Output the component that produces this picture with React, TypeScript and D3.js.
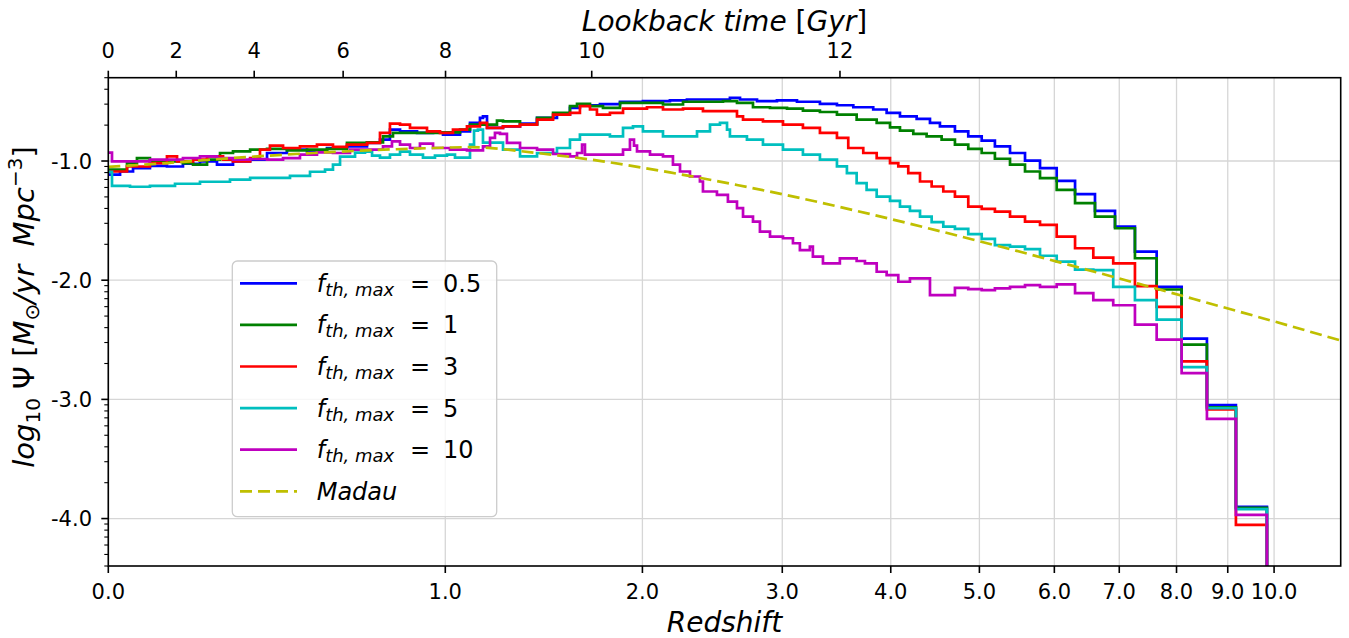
import React from 'react';
import * as d3 from 'd3';

// ---------- data (x = log10(1+z), y = log10 SFRD) ----------
const redshiftTicks = [0, 1, 2, 3, 4, 5, 6, 7, 8, 9, 10];
const lookbackTicks = [0, 2, 4, 6, 8, 10, 12];
const lookbackTickRedshift = [0, 0.150, 0.350, 0.621, 1.001, 1.703, 3.504];
const logPsiTicks = [-1, -2, -3, -4];
const xDomainLog1pz: [number, number] = [0, 1.1009];
const yDomainLogPsi: [number, number] = [Math.log10(4e-5), Math.log10(0.5)];

const sfrF05: [number, number][] = [
  [0, -1.115], [0.0105, -1.088], [0.0221, -1.059], [0.0372, -1.040], [0.0524, -1.046], [0.0667, -1.023],
  [0.0819, -1.003], [0.0971, -1.031], [0.1114, -1.003], [0.1267, -0.989], [0.1418, -0.933], [0.1596, -0.905],
  [0.1775, -0.919], [0.1954, -0.891], [0.2132, -0.877], [0.2311, -0.848], [0.2427, -0.821], [0.2516, -0.737],
  [0.2606, -0.751], [0.2758, -0.764], [0.2901, -0.759], [0.2990, -0.779], [0.3142, -0.751], [0.3231, -0.680],
  [0.3320, -0.638], [0.3347, -0.625], [0.3383, -0.722], [0.3526, -0.709], [0.3678, -0.686], [0.3830, -0.638],
  [0.4008, -0.610], [0.4124, -0.554], [0.4213, -0.532], [0.4392, -0.522], [0.4571, -0.503], [0.4776, -0.498],
  [0.5017, -0.492], [0.5169, -0.484], [0.5375, -0.484], [0.5553, -0.470], [0.5643, -0.484], [0.5795, -0.498],
  [0.5973, -0.492], [0.6152, -0.503], [0.6357, -0.520], [0.6509, -0.532], [0.6655, -0.549], [0.6833, -0.568],
  [0.6953, -0.596], [0.7072, -0.625], [0.7221, -0.646], [0.7340, -0.680], [0.7429, -0.709], [0.7563, -0.751],
  [0.7682, -0.793], [0.7802, -0.829], [0.7920, -0.877], [0.8055, -0.933], [0.8189, -0.997], [0.8323, -1.059],
  [0.8472, -1.166], [0.8636, -1.278], [0.8814, -1.418], [0.8993, -1.551], [0.9171, -1.761], [0.9365, -2.056],
  [0.9588, -2.490], [0.9814, -3.049], [1.0073, -3.902], [1.0350, -6]
];

const sfrF1: [number, number][] = [
  [0, -1.073], [0.0167, -1.017], [0.0256, -0.975], [0.0372, -1.003], [0.0524, -1.003], [0.0667, -1.017],
  [0.0757, -1.031], [0.0882, -0.989], [0.0998, -0.933], [0.1114, -0.919], [0.1267, -0.905], [0.1418, -0.899],
  [0.1596, -0.911], [0.1775, -0.905], [0.1954, -0.899], [0.2132, -0.848], [0.2311, -0.843], [0.2454, -0.793],
  [0.2543, -0.764], [0.2695, -0.764], [0.2847, -0.764], [0.2990, -0.759], [0.3142, -0.737], [0.3231, -0.694],
  [0.3383, -0.694], [0.3472, -0.661], [0.3526, -0.667], [0.3678, -0.694], [0.3830, -0.638], [0.3973, -0.596],
  [0.4124, -0.540], [0.4187, -0.520], [0.4303, -0.540], [0.4419, -0.554], [0.4571, -0.512], [0.4776, -0.512],
  [0.4955, -0.526], [0.5134, -0.503], [0.5312, -0.503], [0.5491, -0.498], [0.5616, -0.512], [0.5759, -0.549],
  [0.5911, -0.554], [0.6063, -0.560], [0.6205, -0.577], [0.6357, -0.589], [0.6509, -0.610], [0.6685, -0.652],
  [0.6864, -0.680], [0.6983, -0.717], [0.7072, -0.745], [0.7191, -0.773], [0.7310, -0.793], [0.7444, -0.821],
  [0.7563, -0.863], [0.7682, -0.899], [0.7802, -0.933], [0.7920, -0.981], [0.8055, -1.031], [0.8189, -1.088],
  [0.8323, -1.143], [0.8472, -1.242], [0.8636, -1.354], [0.8814, -1.466], [0.8993, -1.564], [0.9171, -1.816],
  [0.9365, -2.078], [0.9588, -2.540], [0.9814, -3.066], [1.0073, -3.910], [1.0350, -6]
];

const sfrF3: [number, number][] = [
  [0, -1.088], [0.0167, -1.046], [0.0372, -1.017], [0.0524, -0.961], [0.0614, -1.003], [0.0757, -0.989],
  [0.0882, -0.961], [0.1025, -0.989], [0.1114, -1.003], [0.1267, -0.975], [0.1355, -0.905], [0.1444, -0.871],
  [0.1561, -0.891], [0.1712, -0.877], [0.1864, -0.863], [0.2007, -0.882], [0.2132, -0.863], [0.2311, -0.848],
  [0.2427, -0.764], [0.2516, -0.686], [0.2606, -0.694], [0.2695, -0.722], [0.2847, -0.751], [0.2963, -0.764],
  [0.3079, -0.737], [0.3204, -0.709], [0.3320, -0.680], [0.3383, -0.722], [0.3526, -0.709], [0.3678, -0.694],
  [0.3830, -0.652], [0.3973, -0.610], [0.4124, -0.596], [0.4213, -0.540], [0.4303, -0.568], [0.4365, -0.610],
  [0.4481, -0.596], [0.4598, -0.560], [0.4812, -0.549], [0.4955, -0.568], [0.5134, -0.560], [0.5312, -0.582],
  [0.5616, -0.625], [0.5670, -0.652], [0.5848, -0.667], [0.6027, -0.694], [0.6205, -0.722], [0.6357, -0.764],
  [0.6509, -0.806], [0.6610, -0.891], [0.6744, -0.933], [0.6864, -0.975], [0.6983, -1.017], [0.7057, -1.045],
  [0.7146, -1.101], [0.7251, -1.172], [0.7355, -1.214], [0.7459, -1.256], [0.7563, -1.298], [0.7682, -1.382],
  [0.7802, -1.402], [0.7920, -1.424], [0.8055, -1.466], [0.8189, -1.508], [0.8323, -1.536], [0.8472, -1.635],
  [0.8636, -1.732], [0.8799, -1.811], [0.8977, -1.859], [0.9171, -2.050], [0.9365, -2.224], [0.9588, -2.681],
  [0.9814, -3.085], [1.0073, -4.053], [1.0350, -6]
];

const sfrF5: [number, number][] = [
  [0, -1.090], [0.0033, -1.208], [0.0194, -1.216], [0.0372, -1.208], [0.0596, -1.191], [0.0819, -1.174],
  [0.1087, -1.157], [0.1267, -1.141], [0.1444, -1.141], [0.1623, -1.124], [0.1802, -1.090], [0.1936, -1.073],
  [0.2007, -1.031], [0.2070, -0.963], [0.2204, -0.930], [0.2293, -0.922], [0.2356, -0.955], [0.2427, -0.972],
  [0.2516, -0.947], [0.2606, -0.922], [0.2695, -0.947], [0.2811, -0.972], [0.2918, -0.955], [0.3025, -0.947],
  [0.3097, -0.972], [0.3186, -0.972], [0.3231, -0.863], [0.3267, -0.745], [0.3302, -0.737], [0.3347, -0.846],
  [0.3526, -0.905], [0.3678, -0.961], [0.3830, -0.933], [0.4008, -0.891], [0.4124, -0.821], [0.4213, -0.779],
  [0.4365, -0.779], [0.4481, -0.793], [0.4598, -0.722], [0.4687, -0.709], [0.4776, -0.751], [0.4955, -0.793],
  [0.5134, -0.793], [0.5259, -0.751], [0.5375, -0.694], [0.5464, -0.680], [0.5527, -0.737], [0.5553, -0.793],
  [0.5705, -0.821], [0.5848, -0.863], [0.6027, -0.905], [0.6205, -0.947], [0.6357, -0.989], [0.6509, -1.045],
  [0.6598, -1.101], [0.6685, -1.185], [0.6774, -1.242], [0.6864, -1.298], [0.6983, -1.334], [0.7072, -1.382],
  [0.7161, -1.418], [0.7251, -1.466], [0.7355, -1.513], [0.7459, -1.550], [0.7563, -1.570], [0.7682, -1.614],
  [0.7802, -1.654], [0.7920, -1.705], [0.8055, -1.719], [0.8189, -1.739], [0.8323, -1.795], [0.8472, -1.845],
  [0.8636, -1.911], [0.8799, -1.915], [0.8977, -2.056], [0.9171, -2.168], [0.9365, -2.330], [0.9588, -2.729],
  [0.9814, -3.074], [1.0073, -3.921], [1.0350, -6]
];

const sfrF10: [number, number][] = [
  [0, -0.930], [0.0033, -1.003], [0.0221, -1.003], [0.0372, -0.989], [0.0667, -0.975], [0.0819, -0.961],
  [0.0971, -0.975], [0.1114, -0.989], [0.1267, -0.983], [0.1418, -0.989], [0.1561, -0.975], [0.1712, -0.947],
  [0.1864, -0.928], [0.2007, -0.933], [0.2159, -0.905], [0.2311, -0.905], [0.2454, -0.877], [0.2534, -0.835],
  [0.2606, -0.863], [0.2695, -0.891], [0.2784, -0.854], [0.2901, -0.891], [0.3052, -0.905], [0.3204, -0.911],
  [0.3347, -0.877], [0.3410, -0.806], [0.3454, -0.764], [0.3499, -0.773], [0.3561, -0.848], [0.3678, -0.891],
  [0.3830, -0.905], [0.3973, -0.941], [0.4124, -0.961], [0.4187, -0.933], [0.4232, -0.863], [0.4258, -0.947],
  [0.4544, -0.947], [0.4598, -0.905], [0.4660, -0.821], [0.4696, -0.871], [0.4723, -0.919], [0.4839, -0.947],
  [0.4955, -0.961], [0.5044, -1.031], [0.5107, -1.088], [0.5196, -1.130], [0.5285, -1.172], [0.5312, -1.256],
  [0.5437, -1.284], [0.5535, -1.340], [0.5616, -1.396], [0.5670, -1.466], [0.5759, -1.508], [0.5821, -1.592],
  [0.5911, -1.635], [0.6027, -1.648], [0.6116, -1.690], [0.6178, -1.747], [0.6267, -1.719], [0.6294, -1.803],
  [0.6384, -1.859], [0.6535, -1.817], [0.6685, -1.839], [0.6759, -1.859], [0.6864, -1.929], [0.6953, -1.957],
  [0.7057, -2.013], [0.7161, -1.985], [0.7340, -2.125], [0.7563, -2.064], [0.7682, -2.075], [0.7802, -2.083],
  [0.7920, -2.069], [0.8055, -2.056], [0.8189, -2.041], [0.8323, -2.056], [0.8472, -2.035], [0.8636, -2.109],
  [0.8799, -2.168], [0.8977, -2.210], [0.9171, -2.372], [0.9365, -2.498], [0.9588, -2.779], [0.9814, -3.163],
  [1.0073, -3.969], [1.0350, -6]
];

const madau: [number, number][] = [
  [0, -1.05], [0.0524, -1.017], [0.1114, -0.975], [0.1712, -0.939], [0.2311, -0.911], [0.2901, -0.891],
  [0.3231, -0.884], [0.3830, -0.933], [0.4419, -1.003], [0.5017, -1.096], [0.5616, -1.201], [0.6205, -1.316],
  [0.6800, -1.444], [0.7400, -1.582], [0.8000, -1.726], [0.8600, -1.876], [0.9200, -2.029], [0.9800, -2.185],
  [1.0400, -2.342], [1.1009, -2.506]
];

const fthLabels = ['0.5', '1', '3', '5', '10'];
const seriesColors = ['#0000ff', '#008000', '#ff0000', '#00bfbf', '#bf00bf'];
const seriesData = [sfrF05, sfrF1, sfrF3, sfrF5, sfrF10];
const madauColor = '#bfbf00';

// ---------- layout ----------
const W = 1349;
const H = 638;
const PL = 108.3, PR = 1340.7, PT = 77.7, PB = 566;
const FONT = "'DejaVu Sans', sans-serif";

export default function App() {
  const x = d3.scaleLinear().domain(xDomainLog1pz).range([PL, PR]);
  const y = d3.scaleLinear().domain(yDomainLogPsi).range([PB, PT]);
  const xz = (z: number) => x(Math.log10(1 + z));

  const stepLine = d3.line<[number, number]>().x(d => x(d[0])).y(d => y(d[1])).curve(d3.curveStepAfter);
  const smoothLine = d3.line<[number, number]>().x(d => x(d[0])).y(d => y(d[1])).curve(d3.curveMonotoneX);

  const minorY: number[] = [];
  for (let n = -5; n <= -1; n++) {
    for (let k = 2; k <= 9; k++) {
      const v = n + Math.log10(k);
      if (v >= yDomainLogPsi[0] - 1e-6 && v <= yDomainLogPsi[1] + 1e-6) minorY.push(v);
    }
  }

  const legendX = 232.3, legendY = 261, legendW = 264.4, legendH = 255.7;
  const rowY0 = 283.3, rowDy = 41.6;

  return (
    <svg width={W} height={H} style={{ position: 'absolute', left: 0, top: 0, display: 'block' }} fontFamily={FONT}>
      <rect x={0} y={0} width={W} height={H} fill="#fff" />
      <defs>
        <clipPath id="plotClip">
          <rect x={PL} y={PT} width={PR - PL} height={PB - PT} />
        </clipPath>
      </defs>

      {/* grid */}
      <g stroke="#d6d6d6" strokeWidth={1.3}>
        {redshiftTicks.map(z => (
          <line key={'gx' + z} x1={xz(z)} x2={xz(z)} y1={PT} y2={PB} />
        ))}
        {logPsiTicks.map(v => (
          <line key={'gy' + v} x1={PL} x2={PR} y1={y(v)} y2={y(v)} />
        ))}
      </g>

      {/* series */}
      <g clipPath="url(#plotClip)" fill="none">
        {seriesData.map((data, i) => (
          <path key={'s' + i} d={stepLine(data) || ''} stroke={seriesColors[i]} strokeWidth={2.7}
            strokeLinejoin="miter" strokeLinecap="square" />
        ))}
        <path d={smoothLine(madau) || ''} stroke={madauColor} strokeWidth={2.7} strokeDasharray="12 6" />
      </g>

      {/* frame */}
      <rect x={PL} y={PT} width={PR - PL} height={PB - PT} fill="none" stroke="#000" strokeWidth={1.6} />

      {/* bottom axis */}
      <g>
        {redshiftTicks.map(z => (
          <g key={'bx' + z}>
            <line x1={xz(z)} x2={xz(z)} y1={PB} y2={PB + 7} stroke="#000" strokeWidth={1.6} />
            <text x={xz(z)} y={599} textAnchor="middle" fontSize={21}>{z.toFixed(1)}</text>
          </g>
        ))}
        <text x={(PL + PR) / 2} y={632} textAnchor="middle" fontSize={28} fontStyle="italic">Redshift</text>
      </g>

      {/* top axis */}
      <g>
        {lookbackTicks.map((t, i) => (
          <g key={'tx' + t}>
            <line x1={xz(lookbackTickRedshift[i])} x2={xz(lookbackTickRedshift[i])} y1={PT} y2={PT - 7} stroke="#000" strokeWidth={1.6} />
            <text x={xz(lookbackTickRedshift[i])} y={57.5} textAnchor="middle" fontSize={21}>{t}</text>
          </g>
        ))}
        <text x={(PL + PR) / 2} y={31} textAnchor="middle" fontSize={28}>
          <tspan fontStyle="italic">Lookback time </tspan>
          <tspan>[</tspan>
          <tspan fontStyle="italic">Gyr</tspan>
          <tspan>]</tspan>
        </text>
      </g>

      {/* left axis */}
      <g>
        {logPsiTicks.map(v => (
          <g key={'ly' + v}>
            <line x1={PL} x2={PL - 7} y1={y(v)} y2={y(v)} stroke="#000" strokeWidth={1.6} />
            <text x={92} y={y(v)} dy="0.36em" textAnchor="end" fontSize={21}>{v.toFixed(1)}</text>
          </g>
        ))}
        {minorY.map(v => (
          <line key={'my' + v} x1={PL} x2={PL - 4} y1={y(v)} y2={y(v)} stroke="#000" strokeWidth={1.1} />
        ))}
        <text transform={`translate(34,307) rotate(-90)`} textAnchor="middle" fontSize={29}
          style={{ whiteSpace: 'pre' }}>
          <tspan fontStyle="italic">log</tspan>
          <tspan fontSize={20} dy={6}>10</tspan>
          <tspan dy={-6}>{' Ψ ['}</tspan>
          <tspan fontStyle="italic">M</tspan>
          <tspan fontSize={20} dy={5}>⊙</tspan>
          <tspan fontStyle="italic" dy={-5}>{'/yr  Mpc'}</tspan>
          <tspan fontSize={20} dy={-12}>−3</tspan>
          <tspan dy={12}>]</tspan>
        </text>
      </g>

      {/* legend */}
      <g>
        <rect x={legendX} y={legendY} width={legendW} height={legendH} rx={5} ry={5}
          fill="#fff" fillOpacity={0.8} stroke="#cccccc" strokeWidth={1.3} />
        {fthLabels.map((lab, i) => {
          const ry = rowY0 + i * rowDy;
          return (
            <g key={'lg' + i}>
              <line x1={240} x2={297} y1={ry} y2={ry} stroke={seriesColors[i]} strokeWidth={2.7} />
              <text x={316.7} y={ry + 8.4} fontSize={24}>
                <tspan fontStyle="italic">f</tspan>
                <tspan fontStyle="italic" fontSize={18} dy={4}>th, max</tspan>
              </text>
              <text x={410} y={ry + 8.4} fontSize={24}>=</text>
              <text x={443} y={ry + 8.4} fontSize={24}>{lab}</text>
            </g>
          );
        })}
        <line x1={240} x2={297} y1={rowY0 + 5 * rowDy} y2={rowY0 + 5 * rowDy} stroke={madauColor}
          strokeWidth={2.7} strokeDasharray="12 6" />
        <text x={316.7} y={rowY0 + 5 * rowDy + 8.4} fontSize={24} fontStyle="italic">Madau</text>
      </g>
    </svg>
  );
}
